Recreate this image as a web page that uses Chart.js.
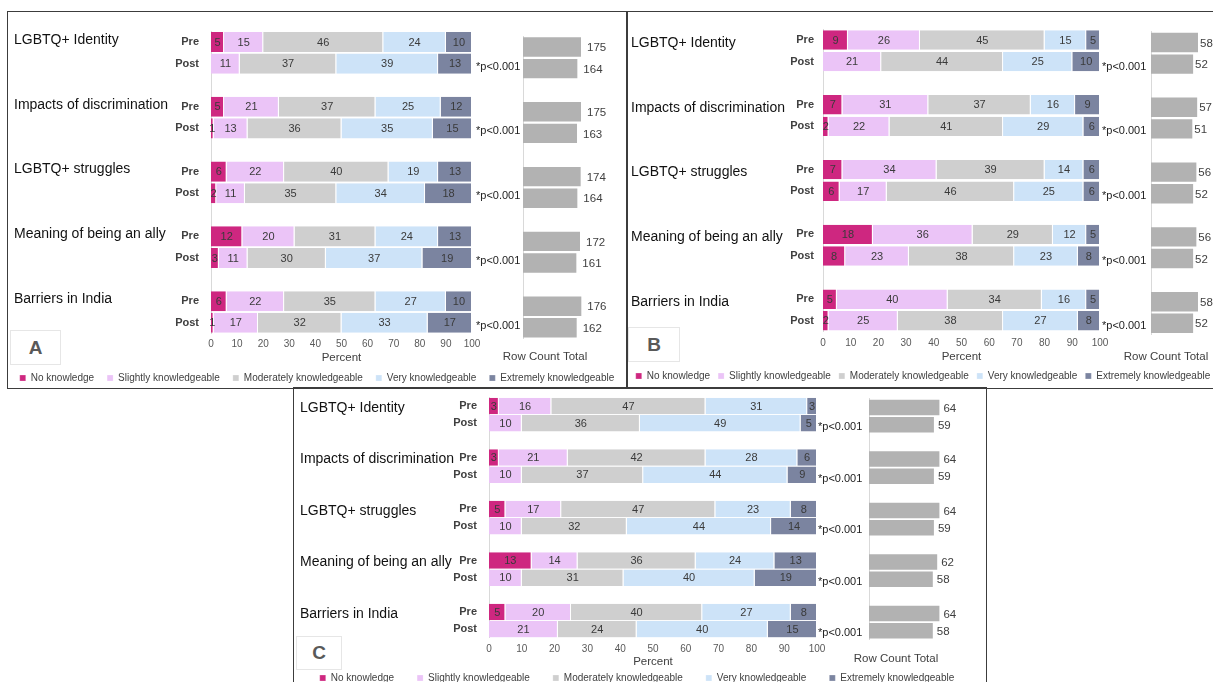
<!DOCTYPE html>
<html>
<head>
<meta charset="utf-8">
<script src="https://cdn.jsdelivr.net/npm/chart.js@4.4.1/dist/chart.umd.min.js"></script>
<style>
  html, body { margin: 0; padding: 0; background: #fff; overflow: hidden; }
  body { width: 1213px; height: 682px; position: relative; }
  .panel { position: absolute; border: 1.5px solid #3c3c3c; box-sizing: border-box; }
  .tag { position: absolute; border: 1px solid #e6e6e6; box-sizing: border-box; color: #595959;
         font: bold 19px Arial, 'Liberation Sans', sans-serif; display: flex; align-items: center; justify-content: center; }
  canvas { position: absolute; }
</style>
</head>
<body>
<div class="panel" style="left:7px;top:11px;width:621px;height:378px"></div>
<div class="panel" style="left:626px;top:11px;width:600px;height:378px"></div>
<div class="panel" style="left:293px;top:387px;width:694px;height:320px"></div>
<div class="tag" style="left:10px;top:330px;width:51px;height:35px">A</div>
<div class="tag" style="left:628px;top:327px;width:52px;height:35px">B</div>
<div class="tag" style="left:296px;top:636px;width:46px;height:34px">C</div>

<script>
// ---- data (percent per level; order: topic1 Pre, topic1 Post, topic2 Pre, ...) ----
const topics = ['LGBTQ+ Identity', 'Impacts of discrimination', 'LGBTQ+ struggles', 'Meaning of being an ally', 'Barriers in India'];
const phases = ['Pre', 'Post'];
const levels = ['No knowledge', 'Slightly knowledgeable', 'Moderately knowledgeable', 'Very knowledgeable', 'Extremely knowledgeable'];
const pLabel = '*p<0.001';
const countTitle = 'Row Count Total';
const percentTitle = 'Percent';

// panel A
const aNone     = [5, 0, 5, 1, 6, 2, 12, 3, 6, 1];
const aSlight   = [15, 11, 21, 13, 22, 11, 20, 11, 22, 17];
const aModerate = [46, 37, 37, 36, 40, 35, 31, 30, 35, 32];
const aVery     = [24, 39, 25, 35, 19, 34, 24, 37, 27, 33];
const aExtreme  = [10, 13, 12, 15, 13, 18, 13, 19, 10, 17];
const aCount    = [175, 164, 175, 163, 174, 164, 172, 161, 176, 162];

// panel B
const bNone     = [9, 0, 7, 2, 7, 6, 18, 8, 5, 2];
const bSlight   = [26, 21, 31, 22, 34, 17, 36, 23, 40, 25];
const bModerate = [45, 44, 37, 41, 39, 46, 29, 38, 34, 38];
const bVery     = [15, 25, 16, 29, 14, 25, 12, 23, 16, 27];
const bExtreme  = [5, 10, 9, 6, 6, 6, 5, 8, 5, 8];
const bCount    = [58, 52, 57, 51, 56, 52, 56, 52, 58, 52];

// panel C
const cNone     = [3, 0, 3, 0, 5, 0, 13, 0, 5, 0];
const cSlight   = [16, 10, 21, 10, 17, 10, 14, 10, 20, 21];
const cModerate = [47, 36, 42, 37, 47, 32, 36, 31, 40, 24];
const cVery     = [31, 49, 28, 44, 23, 44, 24, 40, 27, 40];
const cExtreme  = [3, 5, 6, 9, 8, 14, 13, 19, 8, 15];
const cCount    = [64, 59, 64, 59, 64, 59, 62, 58, 64, 58];

// ---- styles ----
const levelColors = ['#ce2780', '#ebc4f7', '#cfcfcf', '#cde3f8', '#7b84a0'];
const countColor = '#b2b2b2';
const sans = "Arial, 'Liberation Sans', Helvetica, sans-serif";
const narrow = "'Liberation Sans Narrow', 'Arial Narrow', Arial, sans-serif";
Chart.defaults.font.family = sans;

// ---- geometry per panel ----
const geoA = {
  main: {left: 0, top: 12, width: 634, height: 381, yW: 211, rightW: 162, padTop: 19.2, axisH: 26.4, tickPad: 5,
         titlePadB: -5, legendPad: 13, legendTail: '', yTickPad: 12, barPct: 0.93, topicX: 14, topicDy: -2, pDx: 4, pDy: 3},
  count: {left: 500, top: 30, width: 120, height: 340, pad: {left: 23, right: 37.35, top: 6.2, bottom: 31.4},
          max: 180, barPct: 0.9, labelDx: 6, titleX: 545, titleY: 357}
};
const geoB = {
  main: {left: 600, top: 11, width: 646, height: 380, yW: 223, rightW: 146, padTop: 18.2, axisH: 31.4, tickPad: 5.4,
         titlePadB: -1, legendPad: 8, legendTail: '', yTickPad: 9, barPct: 0.9, topicX: 631, topicDy: 3, pDx: 2, pDy: 5},
  count: {left: 1110, top: 20, width: 110, height: 350, pad: {left: 41, right: 12.3, top: 11.7, bottom: 35.9},
          max: 70, barPct: 0.9, labelDx: 2, titleX: 1166, titleY: 357}
};
const geoC = {
  main: {left: 280, top: 370, width: 719, height: 323, yW: 209, rightW: 182, padTop: 27.4, axisH: 17.2, tickPad: 5.2,
         titlePadB: -14, legendPad: 18, legendTail: '\u2002', yTickPad: 12, barPct: 0.96, topicX: 300, topicDy: 2, pDx: 1, pDy: 4},
  count: {left: 850, top: 390, width: 130, height: 280, pad: {left: 19, right: 23, top: 8.9, bottom: 30.7},
          max: 80, barPct: 0.9, labelDx: 4, titleX: 896, titleY: 659}
};

// Pre, Post, blank, Pre, Post, blank ...
function spaced(vals) {
  const out = [];
  for (let t = 0; t < vals.length / 2; t++) {
    if (t) out.push(null);
    out.push(vals[2 * t], vals[2 * t + 1]);
  }
  return out;
}
const rowLabels = [];
topics.forEach((t, k) => {
  if (k) rowLabels.push('');
  rowLabels.push(phases[0], phases[1]);
});

function makeCanvas(g) {
  const cv = document.createElement('canvas');
  cv.width = g.width; cv.height = g.height;
  cv.style.left = g.left + 'px'; cv.style.top = g.top + 'px';
  document.body.appendChild(cv);
  return cv;
}

function mainChart(g, series) {
  const annotate = {
    id: 'annotate',
    afterDatasetsDraw(chart) {
      const ctx = chart.ctx, x = chart.scales.x, y = chart.scales.y;
      ctx.save();
      ctx.textBaseline = 'middle';
      ctx.textAlign = 'center';
      ctx.font = '11px ' + sans;
      ctx.fillStyle = '#3a3a3a';
      chart.data.datasets.forEach((ds, i) => {
        chart.getDatasetMeta(i).data.forEach((bar, j) => {
          const v = ds.data[j];
          if (!v) return;
          ctx.fillText(String(v), (bar.x + bar.base) / 2, bar.y + 0.5);
        });
      });
      ctx.textAlign = 'left';
      ctx.font = '14px ' + sans;
      ctx.fillStyle = '#111';
      topics.forEach((t, k) => {
        ctx.fillText(t, g.topicX - g.left, y.getPixelForValue(3 * k) + g.topicDy);
      });
      ctx.font = '11px ' + sans;
      ctx.fillStyle = '#222';
      topics.forEach((t, k) => {
        ctx.fillText(pLabel, x.getPixelForValue(100) + g.pDx, y.getPixelForValue(3 * k + 1) + g.pDy);
      });
      ctx.restore();
    }
  };

  new Chart(makeCanvas(g), {
    type: 'bar',
    data: {
      labels: rowLabels,
      datasets: levels.map((name, i) => ({
        label: name,
        data: spaced(series[i]),
        backgroundColor: levelColors[i],
        borderColor: '#ffffff',
        borderWidth: {right: 1},
        borderSkipped: false,
        barPercentage: g.barPct,
        categoryPercentage: 1
      }))
    },
    options: {
      indexAxis: 'y',
      responsive: false,
      animation: false,
      devicePixelRatio: 1,
      events: [],
      layout: {padding: {left: 0, right: 0, top: g.padTop, bottom: 0}},
      scales: {
        x: {
          stacked: true, min: 0, max: 100,
          grid: {display: false, drawTicks: false}, border: {display: false},
          ticks: {stepSize: 10, color: '#595959', font: {size: 10}, padding: g.tickPad, maxRotation: 0},
          title: {display: true, text: percentTitle, color: '#404040', font: {size: 11.5},
                  padding: {top: 0, bottom: g.titlePadB}},
          afterFit: s => { s.height = g.axisH; }
        },
        y: {
          stacked: true,
          grid: {display: false, drawTicks: false}, border: {display: true, color: '#d9d9d9', width: 1},
          ticks: {color: '#404040', font: {family: narrow, size: 11, weight: 'bold'}, padding: g.yTickPad, autoSkip: false},
          afterFit: s => { s.width = g.yW; }
        },
        yRight: {
          type: 'category', position: 'right', labels: rowLabels,
          grid: {display: false, drawTicks: false}, border: {display: false}, ticks: {display: false},
          afterFit: s => { s.width = g.rightW; }
        }
      },
      plugins: {
        tooltip: {enabled: false},
        legend: {
          position: 'bottom',
          labels: {
            boxWidth: 6, boxHeight: 6, color: '#404040', font: {size: 10}, padding: g.legendPad,
            generateLabels: chart => Chart.defaults.plugins.legend.labels.generateLabels(chart)
              .map(item => Object.assign(item, {text: item.text + g.legendTail}))
          }
        }
      }
    },
    plugins: [annotate]
  });
}

function countChart(g, counts) {
  const annotate = {
    id: 'countLabels',
    afterDatasetsDraw(chart) {
      const ctx = chart.ctx;
      ctx.save();
      ctx.textBaseline = 'middle';
      ctx.textAlign = 'left';
      ctx.font = '11.5px ' + sans;
      ctx.fillStyle = '#404040';
      const ds = chart.data.datasets[0];
      chart.getDatasetMeta(0).data.forEach((bar, j) => {
        const v = ds.data[j];
        if (v == null) return;
        ctx.fillText(String(v), bar.x + g.labelDx, bar.y + 1);
      });
      ctx.textAlign = 'center';
      ctx.fillText(countTitle, g.titleX - g.left, g.titleY - g.top);
      ctx.restore();
    }
  };

  new Chart(makeCanvas(g), {
    type: 'bar',
    data: {
      labels: rowLabels,
      datasets: [{
        label: countTitle,
        data: spaced(counts),
        backgroundColor: countColor,
        barPercentage: g.barPct,
        categoryPercentage: 1
      }]
    },
    options: {
      indexAxis: 'y',
      responsive: false,
      animation: false,
      devicePixelRatio: 1,
      events: [],
      layout: {padding: g.pad},
      scales: {
        x: {display: false, min: 0, max: g.max},
        y: {
          grid: {display: false, drawTicks: false}, border: {display: true, color: '#d9d9d9', width: 1},
          ticks: {display: false},
          afterFit: s => { s.width = 0; }
        }
      },
      plugins: {tooltip: {enabled: false}, legend: {display: false}}
    },
    plugins: [annotate]
  });
}

mainChart(geoA.main, [aNone, aSlight, aModerate, aVery, aExtreme]);
countChart(geoA.count, aCount);
mainChart(geoB.main, [bNone, bSlight, bModerate, bVery, bExtreme]);
countChart(geoB.count, bCount);
mainChart(geoC.main, [cNone, cSlight, cModerate, cVery, cExtreme]);
countChart(geoC.count, cCount);
</script>
</body>
</html>
